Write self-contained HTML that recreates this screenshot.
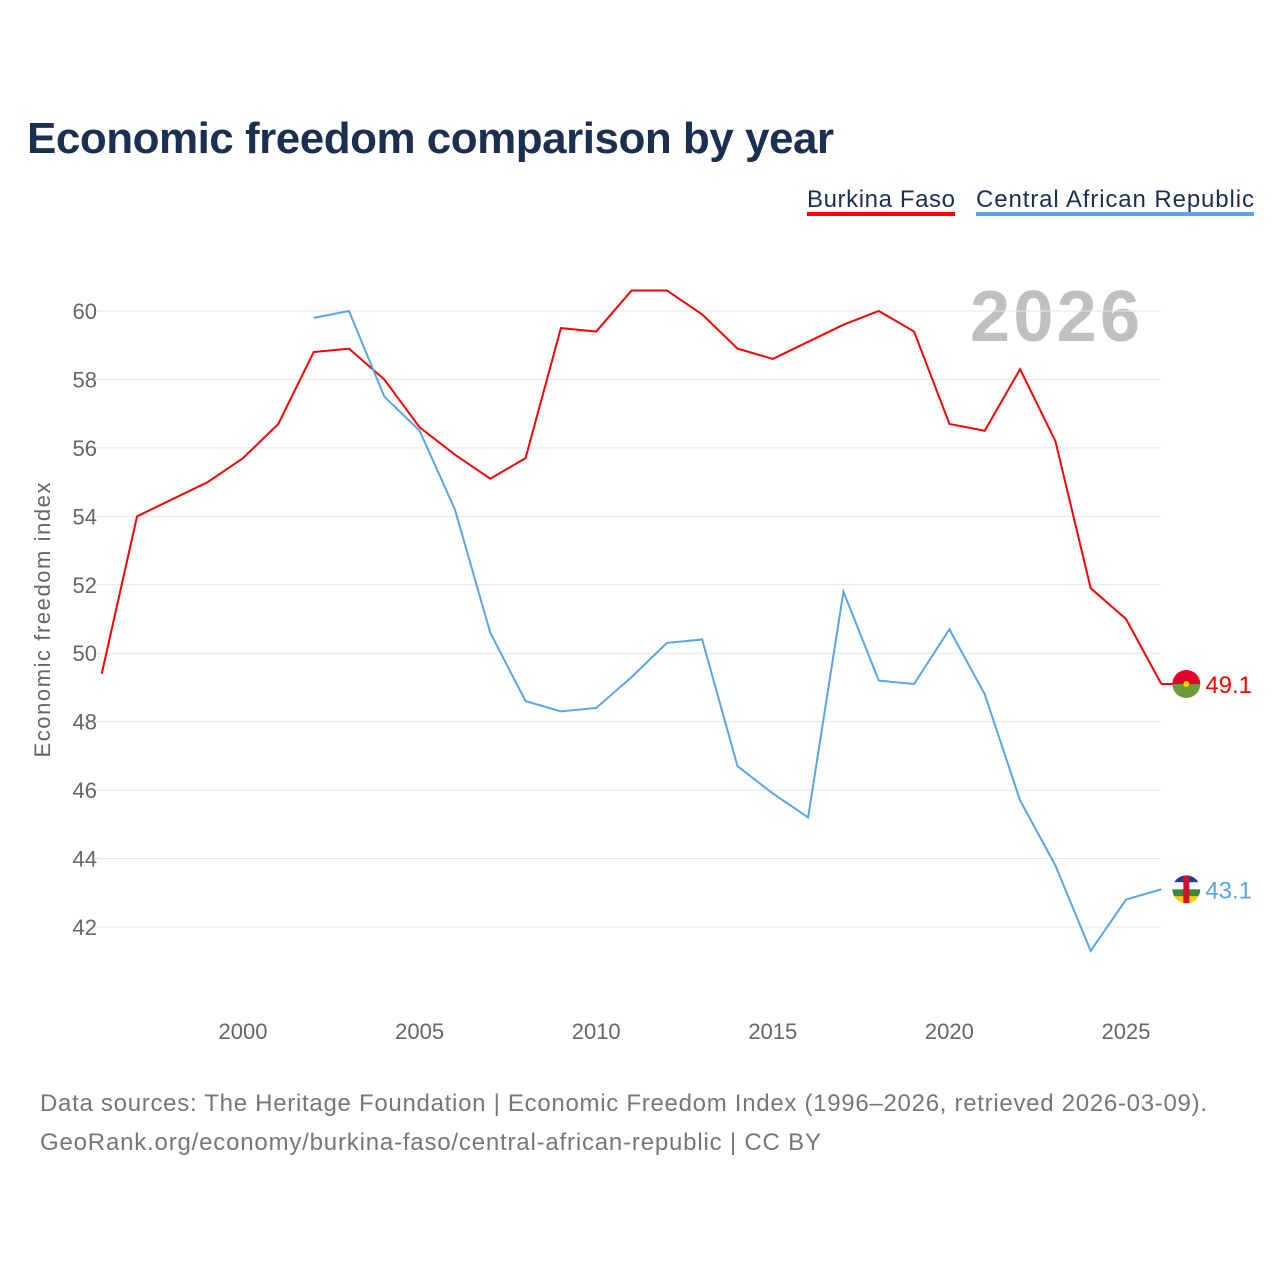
<!DOCTYPE html>
<html><head><meta charset="utf-8"><style>
body{margin:0;background:#fff;width:1280px;height:1280px;overflow:hidden;font-family:"Liberation Sans",sans-serif}
</style></head><body>
<svg id="chart" width="1280" height="1280" style="position:absolute;left:0;top:0">
<text x="27" y="153" font-size="44" font-weight="bold" fill="#1b2f50" letter-spacing="-0.5">Economic freedom comparison by year</text>
<g>
<text x="807" y="207" font-size="24" fill="#1b2f50" textLength="148">Burkina Faso</text>
<rect x="807" y="212" width="148" height="4" fill="#ff0000"/>
<text x="976" y="207" font-size="24" fill="#1b2f50" textLength="278">Central African Republic</text>
<rect x="976" y="212" width="278" height="4" fill="#5aa5ea"/>
</g>
<text x="970" y="341" font-size="72" font-weight="bold" fill="#c0c0c0" textLength="170">2026</text>
<g id="grid"></g>
<g id="yt"></g>
<g id="xt"></g>
<text transform="translate(50,620) rotate(-90)" font-size="22" fill="#666" text-anchor="middle" textLength="275">Economic freedom index</text>
<g id="series"></g>
<text x="40" y="1111" font-size="24" fill="#777" textLength="1167">Data sources: The Heritage Foundation | Economic Freedom Index (1996–2026, retrieved 2026-03-09).</text>
<text x="40" y="1150" font-size="24" fill="#777" textLength="781">GeoRank.org/economy/burkina-faso/central-african-republic | CC BY</text>
</svg>
<script>
const yearsBF=[1996,1997,1998,1999,2000,2001,2002,2003,2004,2005,2006,2007,2008,2009,2010,2011,2012,2013,2014,2015,2016,2017,2018,2019,2020,2021,2022,2023,2024,2025,2026];
const valuesBF=[49.4,54.0,54.5,55.0,55.7,56.7,58.8,58.9,58.0,56.6,55.8,55.1,55.7,59.5,59.4,60.6,60.6,59.9,58.9,58.6,59.1,59.6,60.0,59.4,56.7,56.5,58.3,56.2,51.9,51.0,49.1];
const yearsCAR=[2002,2003,2004,2005,2006,2007,2008,2009,2010,2011,2012,2013,2014,2015,2016,2017,2018,2019,2020,2021,2022,2023,2024,2025,2026];
const valuesCAR=[59.8,60.0,57.5,56.5,54.2,50.6,48.6,48.3,48.4,49.3,50.3,50.4,46.7,45.9,45.2,51.8,49.2,49.1,50.7,48.8,45.7,43.8,41.3,42.8,43.1];
const yTicks=[42,44,46,48,50,52,54,56,58,60];
const xTicks=[2000,2005,2010,2015,2020,2025];
const X=y=>243+(y-2000)*35.32;
const Y=v=>311+(60-v)*34.22;
const NS="http://www.w3.org/2000/svg";
function mk(t,a,p){const e=document.createElementNS(NS,t);for(const k in a)e.setAttribute(k,a[k]);p.appendChild(e);return e;}
const grid=document.getElementById('grid'),yt=document.getElementById('yt'),xt=document.getElementById('xt'),ser=document.getElementById('series');
yTicks.forEach(v=>{
 const l=mk('line',{x1:95,x2:1161,y1:Y(v),y2:Y(v),stroke:'#e6e6e6','stroke-width':1},grid);
 
 
 const t=mk('text',{x:97,y:Y(v)+8,'font-size':22,fill:'#666','text-anchor':'end'},yt);
 t.textContent=v;
 
 
});
xTicks.forEach(v=>{
 const t=mk('text',{x:X(v),y:1039,'font-size':22,fill:'#666','text-anchor':'middle'},xt);
 t.textContent=v;
 
 
});
function line(ys,vs,col,name){
 const p=mk('polyline',{points:ys.map((y,i)=>X(y)+','+Y(vs[i])).join(' '),fill:'none',stroke:col,'stroke-width':2},ser);
 
 
 const ly=Y(vs[vs.length-1]);const lx=X(ys[ys.length-1]);
 const g=mk('g',{},ser);
 
 
 return {g,lx,ly};
}
let a=line(yearsBF,valuesBF,'#ff0000','burkina-faso');
mk('line',{x1:a.lx,x2:a.lx+25,y1:a.ly,y2:a.ly,stroke:'#ff0000','stroke-width':2},a.g);
mk('path',{d:`M${a.lx+11},${a.ly} a14,14 0 0 1 28,0 z`,fill:'#e4002b'},a.g);
mk('path',{d:`M${a.lx+11},${a.ly} a14,14 0 0 0 28,0 z`,fill:'#6d9a3a'},a.g);
mk('circle',{cx:a.lx+25,cy:a.ly,r:3,fill:'#ffd200'},a.g);
let t=mk('text',{x:a.lx+44,y:a.ly+9,'font-size':24,fill:'#ff0000'},a.g);t.textContent=valuesBF[valuesBF.length-1];


let b=line(yearsCAR,valuesCAR,'#5aa5ea','car');
mk('clipPath',{id:'cc'},b.g);
mk('circle',{cx:b.lx+25,cy:b.ly,r:14},b.g.lastChild);
const cg=mk('g',{'clip-path':'url(#cc)'},b.g);
['#1d3f9a','#ffffff','#3d8a3d','#ffcc00'].forEach((c,i)=>mk('rect',{x:b.lx+11,y:b.ly-14+i*7,width:28,height:7,fill:c},cg));
mk('rect',{x:b.lx+22,y:b.ly-14,width:6,height:28,fill:'#d21034'},cg);
t=mk('text',{x:b.lx+44,y:b.ly+9,'font-size':24,fill:'#5aa5ea'},b.g);t.textContent=valuesCAR[valuesCAR.length-1];


</script>
</body></html>
